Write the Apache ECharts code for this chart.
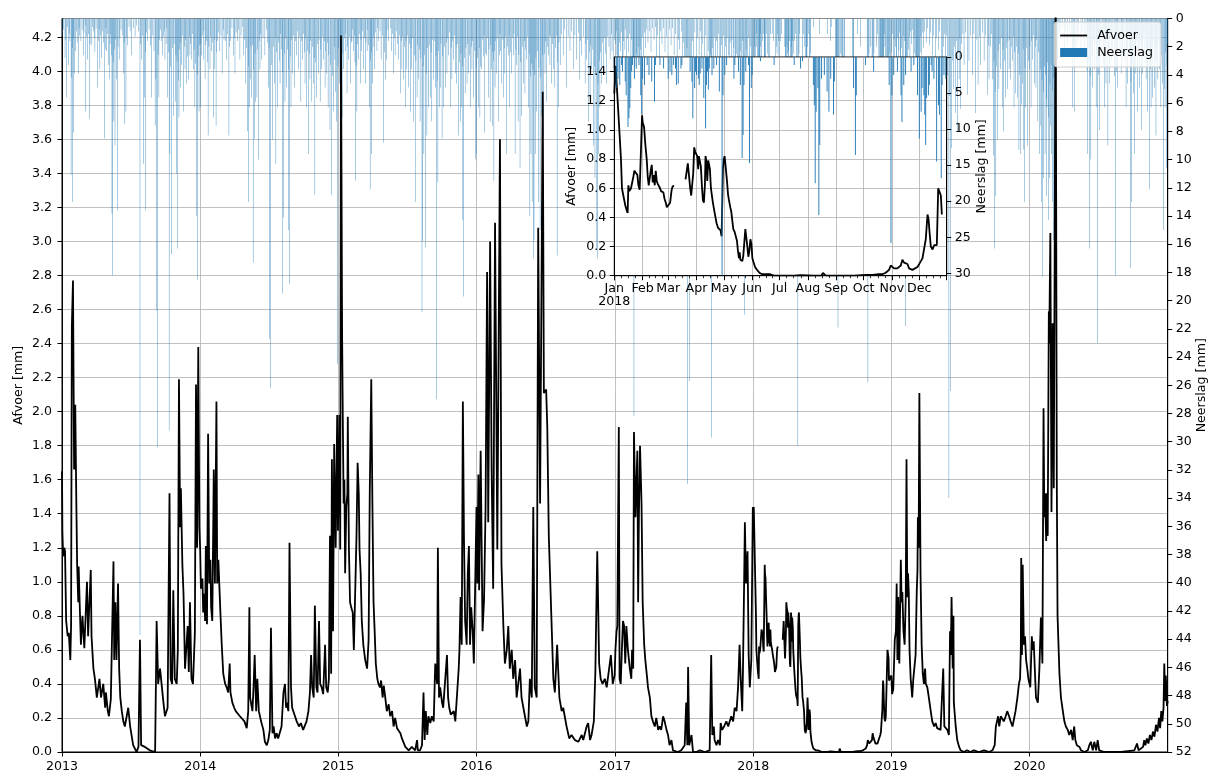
<!DOCTYPE html>
<html>
<head>
<meta charset="utf-8">
<script src="https://cdn.jsdelivr.net/npm/echarts@6/dist/echarts.min.js"></script>
<style>
  html, body { margin: 0; padding: 0; background: #fff; }
  #chart { width: 1212px; height: 774px; }
</style>
</head>
<body>
<div id="chart"></div>
<script>
// Daily discharge (Afvoer, mm) per year as [day of year, value]; null marks missing data.
const afvoer2013 = [[0,1.65],[1,1.3],[3,1.15],[6,1.2],[8,1.18],[11,0.77],[15,0.68],[18,0.7],[22,0.54],[24,0.74],[26,2.5],[29,2.77],[32,1.66],[35,2.04],[38,1.44],[40,1.1],[43,0.88],[44,1.09],[47,0.85],[50,0.63],[54,0.8],[59,0.61],[63,0.6],[66,1.0],[69,0.68],[71,0.8],[76,1.07],[78,0.68],[83,0.49],[87,0.43],[92,0.32],[99,0.43],[103,0.32],[109,0.4],[114,0.26],[116,0.35],[121,0.24],[124,0.21],[129,0.31],[136,1.12],[138,0.54],[141,0.88],[144,0.54],[148,0.99],[151,0.49],[154,0.32],[158,0.24],[162,0.18],[166,0.15],[175,0.26],[180,0.15],[188,0.04],[197,0.0],[202,0.03],[206,0.66],[209,0.04],[219,0.03],[232,0.01],[246,0.0],[250,0.77],[254,0.4],[259,0.49],[268,0.29],[272,0.21],[279,0.26],[284,1.52],[287,0.43],[291,0.4],[294,0.95],[298,0.43],[303,0.4],[306,0.6],[309,2.19],[312,1.32],[314,1.55],[318,1.1],[321,0.93],[325,0.49],[329,0.63],[332,0.74],[335,0.47],[338,0.88],[342,0.43],[346,0.4],[351,0.7],[354,2.16],[357,1.2],[360,2.38],[363,1.32]];
const afvoer2014 = [[0,1.19],[2,0.96],[6,1.02],[8,0.82],[11,0.93],[13,0.77],[15,1.21],[18,0.75],[21,1.87],[24,0.99],[27,1.13],[29,0.85],[32,0.77],[36,1.66],[39,0.99],[43,2.06],[45,0.99],[48,1.13],[51,0.96],[54,0.79],[57,0.63],[61,0.46],[66,0.4],[70,0.38],[74,0.35],[78,0.52],[80,0.35],[85,0.29],[90,0.26],[94,0.24],[99,0.23],[105,0.21],[110,0.2],[117,0.18],[123,0.14],[127,0.24],[130,0.85],[132,0.32],[138,0.24],[141,0.38],[144,0.57],[148,0.24],[151,0.43],[155,0.24],[161,0.18],[167,0.13],[171,0.06],[176,0.04],[180,0.07],[184,0.13],[187,0.73],[191,0.11],[194,0.15],[198,0.08],[202,0.11],[206,0.08],[211,0.08],[215,0.15],[220,0.35],[224,0.4],[227,0.26],[229,0.29],[233,0.24],[236,1.23],[240,0.38],[243,0.26],[249,0.22],[255,0.18],[261,0.15],[266,0.17],[272,0.13],[277,0.14],[281,0.18],[286,0.24],[290,0.35],[293,0.57],[296,0.38],[300,0.32],[303,0.86],[307,0.38],[310,0.35],[314,0.77],[317,0.4],[321,0.38],[325,0.34],[330,0.63],[333,0.38],[337,0.35],[340,0.43],[343,1.27],[346,0.46],[348,1.72],[351,0.71],[354,1.81],[358,1.2],[362,1.98],[364,1.3]];
const afvoer2015 = [[1,1.6],[3,1.98],[5,1.19],[7,4.21],[10,2.44],[12,1.91],[14,1.46],[16,1.6],[18,1.05],[21,1.44],[24,1.52],[25,1.97],[28,1.19],[31,0.88],[34,0.85],[38,0.82],[41,0.6],[45,0.6],[48,1.27],[51,1.7],[54,1.52],[56,1.19],[59,1.05],[62,0.77],[66,0.63],[71,0.54],[76,0.49],[80,0.66],[83,1.52],[87,2.19],[90,1.46],[93,0.88],[96,0.71],[99,0.52],[103,0.43],[106,0.4],[110,0.38],[113,0.42],[117,0.32],[120,0.39],[124,0.32],[128,0.24],[133,0.28],[137,0.21],[142,0.24],[146,0.15],[150,0.2],[155,0.14],[159,0.15],[164,0.11],[168,0.08],[172,0.08],[177,0.03],[181,0.04],[186,0.01],[194,0.03],[203,0.01],[208,0.07],[210,0.01],[216,0.01],[221,0.04],[225,0.35],[228,0.07],[231,0.24],[235,0.1],[238,0.21],[243,0.17],[247,0.21],[252,0.18],[256,0.52],[261,0.4],[263,1.2],[266,0.32],[269,0.38],[274,0.29],[277,0.26],[282,0.26],[287,0.57],[290,0.32],[293,0.26],[297,0.22],[300,0.21],[305,0.24],[309,0.18],[313,0.17],[318,0.49],[320,0.6],[323,0.91],[326,0.63],[329,2.06],[332,1.24],[335,0.77],[339,0.63],[342,1.05],[345,1.21],[348,0.63],[351,0.85],[355,0.71],[358,0.52],[362,0.52]];
const afvoer2016 = [[0,1.44],[2,0.99],[5,1.63],[7,0.95],[11,1.77],[16,0.71],[20,0.9],[24,1.44],[28,2.82],[31,1.35],[36,3.0],[40,1.66],[44,0.96],[49,3.11],[55,1.19],[62,3.6],[66,1.1],[71,0.74],[75,0.52],[80,0.6],[84,0.74],[88,0.49],[93,0.6],[97,0.43],[102,0.54],[106,0.32],[115,0.49],[119,0.32],[128,0.21],[133,0.15],[137,0.18],[141,0.43],[146,0.32],[150,1.44],[154,0.38],[159,0.32],[163,3.08],[168,1.46],[175,3.88],[178,2.11],[184,2.13],[187,1.91],[191,1.27],[199,0.71],[203,0.43],[207,0.35],[213,0.63],[219,0.32],[225,0.24],[229,0.26],[238,0.15],[245,0.08],[251,0.1],[260,0.07],[269,0.06],[278,0.1],[282,0.07],[291,0.15],[295,0.17],[300,0.07],[304,0.1],[310,0.18],[314,0.47],[319,1.18],[324,0.52],[328,0.43],[333,0.4],[339,0.43],[344,0.38],[355,0.57],[360,0.4],[365,0.45]];
const afvoer2017 = [[1,0.6],[4,0.71],[6,0.74],[10,1.91],[12,0.43],[15,0.4],[18,0.6],[21,0.77],[24,0.74],[27,0.52],[30,0.74],[34,0.6],[39,0.49],[43,0.43],[45,0.6],[48,0.49],[50,1.88],[54,1.38],[56,1.38],[59,1.77],[61,0.88],[63,1.38],[66,1.8],[70,1.46],[73,0.88],[77,0.63],[80,0.54],[85,0.43],[87,0.38],[92,0.32],[96,0.21],[100,0.18],[105,0.15],[109,0.2],[114,0.13],[118,0.15],[122,0.13],[127,0.21],[131,0.18],[136,0.13],[140,0.1],[144,0.04],[149,0.07],[153,0.01],[158,0.0],[166,0.0],[175,0.01],[184,0.04],[188,0.29],[191,0.04],[193,0.5],[196,0.04],[202,0.1],[206,0.0],[215,0.0],[224,0.01],[228,0.0],[237,0.0],[250,0.01],[254,0.57],[257,0.1],[261,0.15],[263,0.07],[268,0.04],[272,0.07],[277,0.04],[279,0.17],[283,0.13],[288,0.15],[294,0.18],[299,0.15],[303,0.18],[307,0.21],[312,0.18],[316,0.26],[321,0.24],[325,0.38],[329,0.63],[332,0.43],[336,0.24],[338,0.49],[341,0.99],[343,1.35],[346,0.99],[350,1.18],[353,0.57],[356,0.38],[360,0.54],[364,1.44]];
const afvoer2018 = [[0,1.25],[1.5,1.44],[3.3,1.44],[5.5,1.0],[7.3,0.8],[8.4,0.6],[9.9,0.55],[11,0.54],[12.1,0.48],[13.5,0.45],[14.6,0.43],[15.4,0.62],[16.5,0.58],[17.2,0.58],[18.3,0.6],[19.4,0.6],[20.9,0.68],[22,0.72],[23.8,0.71],[25.3,0.69],[26.4,0.62],[27.8,0.59],[29.3,0.6],[30.4,1.1],[31.1,1.05],[32.6,1.02],[34,0.9],[35.5,0.8],[36.6,0.68],[37.7,0.62],[38.8,0.61],[39.9,0.72],[41,0.76],[42.1,0.64],[43.2,0.69],[44.3,0.62],[45.4,0.72],[46.5,0.65],[47.6,0.63],[48.7,0.64],[50.1,0.6],[51.2,0.58],[52.7,0.58],[53.8,0.57],[54.9,0.53],[56.4,0.5],[57.5,0.47],[59.3,0.47],[61.1,0.5],[62.6,0.58],[63.7,0.61],[65.2,0.62],[71,null],[78,0.66],[79.4,0.72],[80.5,0.77],[81.6,0.7],[83.1,0.6],[84.2,0.55],[85.3,0.54],[86.4,0.7],[87.5,0.88],[88.6,0.85],[89.7,0.86],[90.8,0.82],[91.9,0.73],[92.6,0.82],[93.7,0.82],[94.8,0.75],[95.9,0.62],[97,0.52],[98.1,0.5],[99.2,0.62],[99.9,0.82],[101,0.78],[101.8,0.65],[102.9,0.79],[104,0.78],[104.7,0.73],[105.8,0.6],[106.9,0.55],[108,0.5],[109.1,0.46],[110.5,0.41],[112,0.36],[113.5,0.33],[114.9,0.32],[116.4,0.31],[117.5,0.27],[118.2,0.28],[119,0.74],[120,0.8],[120.8,0.82],[121.9,0.75],[123.4,0.65],[124.5,0.56],[125.5,0.52],[127,0.47],[128.1,0.44],[129.2,0.38],[130.3,0.32],[131.8,0.3],[133.2,0.29],[134.3,0.24],[135.4,0.17],[136.5,0.12],[137.3,0.16],[138,0.11],[139.1,0.1],[140.2,0.1],[141.3,0.14],[142.4,0.23],[143.5,0.32],[144.6,0.26],[145.7,0.2],[146.8,0.13],[147.9,0.17],[149,0.25],[150.1,0.22],[151.2,0.12],[152.6,0.09],[154.1,0.06],[156.3,0.04],[158.9,0.02],[161.8,0.01],[165.4,0.01],[170.9,0.01],[174.6,0.0],[181.9,0.0],[196.6,0.0],[203.9,0.003],[218.5,0.0],[226.9,0.0],[228.4,0.02],[230.2,0.02],[231.7,0.0],[240.5,0.0],[262.4,0.0],[275.3,0.005],[282.6,0.005],[289.9,0.01],[293.6,0.01],[297.2,0.02],[300.9,0.04],[302.7,0.07],[304.5,0.06],[306.4,0.05],[310,0.05],[313.7,0.07],[315.5,0.11],[317.3,0.09],[319.2,0.09],[321,0.08],[322.8,0.05],[324.7,0.04],[326.5,0.04],[328.3,0.05],[332,0.06],[333.8,0.06],[335.7,0.1],[337.5,0.12],[339.3,0.11],[341.1,0.25],[343,0.42],[344.1,0.39],[345.2,0.3],[346.6,0.2],[348.5,0.18],[350.3,0.21],[352.1,0.22],[353.2,0.21],[354.7,0.6],[356.1,0.61],[357.6,0.55],[358.7,0.42]];
const afvoer2019 = [[0,0.45],[2,0.34],[5,0.37],[9,0.66],[12,0.71],[14,0.99],[16,0.54],[18,0.91],[21,0.52],[25,1.13],[27,0.88],[29,0.94],[32,0.71],[35,0.63],[38,0.91],[40,1.72],[42,0.91],[44,1.05],[46,0.94],[48,0.6],[51,0.43],[53,0.38],[55,0.32],[58,0.43],[61,0.43],[64,0.57],[67,0.94],[69,1.07],[70,1.38],[72,1.2],[74,2.11],[76,1.41],[77,1.05],[80,0.63],[83,0.46],[86,0.4],[89,0.49],[91,0.4],[95,0.38],[99,0.32],[104,0.24],[108,0.18],[113,0.15],[117,0.17],[121,0.14],[126,0.15],[130,0.13],[135,0.13],[137,0.49],[140,0.15],[143,0.14],[148,0.13],[152,0.1],[155,0.71],[157,0.57],[159,0.91],[162,0.49],[164,0.8],[165,0.29],[170,0.15],[174,0.07],[179,0.03],[183,0.01],[192,0.0],[200,0.01],[209,0.0],[218,0.01],[231,0.0],[245,0.01],[258,0.0],[267,0.01],[273,0.04],[276,0.15],[279,0.18],[282,0.21],[285,0.15],[289,0.21],[293,0.21],[297,0.18],[302,0.21],[306,0.24],[311,0.21],[315,0.18],[320,0.15],[324,0.15],[328,0.24],[333,0.32],[337,0.4],[340,0.43],[342,0.6],[343,1.14],[345,0.57],[347,1.1],[350,0.63],[353,0.68],[356,0.54],[359,0.49],[362,0.43]];
const afvoer2020 = [[2,0.38],[6,0.68],[8,0.6],[11,0.65],[15,0.43],[17,0.32],[22,0.29],[26,0.49],[30,0.79],[34,0.52],[37,2.02],[39,1.38],[41,1.52],[44,1.24],[45,1.52],[48,1.27],[51,2.59],[52,2.4],[55,3.05],[58,1.41],[61,2.52],[64,1.55],[66,2.7],[69,4.6],[72,1.6],[74,0.8],[79,0.46],[83,0.32],[88,0.24],[92,0.18],[96,0.15],[101,0.13],[105,0.1],[110,0.13],[114,0.07],[118,0.15],[121,0.07],[125,0.04],[132,0.03],[136,0.01],[145,0.0],[154,0.01],[158,0.04],[162,0.06],[167,0.01],[171,0.06],[176,0.01],[180,0.07],[184,0.01],[198,0.0],[242,0.0],[277,0.01],[280,0.0],[284,0.05],[288,0.01],[300,0.03],[303,0.07],[306,0.04],[310,0.08],[314,0.05],[318,0.1],[322,0.07],[326,0.12],[330,0.09],[334,0.16],[338,0.12],[342,0.2],[345,0.14],[348,0.24],[351,0.18],[354,0.26],[356,0.52],[358,0.3],[360,0.45],[363,0.27],[365,0.3]];

// Daily precipitation (Neerslag, mm) per year as [day of year, value].
const neerslag2013 = [[2,1.2],[4,0.8],[8,2.8],[10,1.5],[12,5.6],[14,0.6],[17,3.3],[19,1.1],[21,1.6],[24,11.1],[25,4.2],[27,13],[28,2.1],[30,8.1],[31,1.4],[33,3.9],[36,2.3],[38,0.9],[40,1.7],[43,3.9],[45,0.7],[47,1.2],[50,1.6],[53,0.8],[56,2.6],[58,1.0],[61,0.5],[63,6.6],[65,1.3],[67,2.9],[70,1.1],[72,7.1],[74,1.8],[77,1.9],[80,0.6],[83,0.9],[85,1.4],[87,2.4],[90,0.7],[94,4.9],[96,1.6],[98,0.8],[100,3.6],[102,1.2],[105,2.8],[107,0.9],[110,1.7],[112,8.5],[114,2.2],[116,0.7],[118,2.3],[120,1.1],[122,3.3],[125,4.3],[127,1.8],[129,1.1],[131,2.6],[132,13.8],[134,18.2],[135,3.1],[137,7.3],[138,2.2],[140,9],[142,1.5],[144,4.3],[146,13.6],[148,2.0],[151,2.9],[153,1.4],[156,0.8],[160,1.2],[162,3.9],[164,1.7],[166,7.5],[169,6.6],[171,1.4],[173,1.9],[177,0.6],[180,0.9],[184,2.6],[188,0.7],[193,1.3],[197,0.5],[202,0.9],[206,43.7],[208,1.8],[210,2.9],[213,1.2],[215,10.3],[218,5.6],[220,2.4],[221,13.6],[224,1.0],[226,1.6],[230,0.8],[234,1.9],[237,5.6],[240,1.2],[243,2.3],[246,7.6],[248,4.3],[250,20.7],[253,30.4],[254,2.6],[256,5.6],[258,1.5],[260,0.8],[262,1.6],[265,2.6],[268,1.3],[270,0.9],[272,2.9],[275,1.8],[277,0.7],[279,5.6],[281,2.4],[283,29.2],[285,9.6],[287,3.4],[290,16.7],[292,2.1],[294,6.9],[296,1.8],[299,5.9],[301,2.6],[303,11],[304,3.0],[306,16.3],[307,4.4],[309,7],[311,2.2],[313,4.9],[314,1.7],[316,3.3],[318,1.2],[321,6.6],[323,2.0],[325,3.6],[327,1.5],[329,4.6],[331,2.7],[334,4.3],[336,1.3],[338,2.6],[340,1.8],[343,2.9],[345,1.1],[347,3.6],[349,2.2],[351,6.3],[353,3.2],[355,14],[357,4.0],[358,18.5],[360,2.7],[362,6.6],[364,1.9]];
const neerslag2014 = [[0,6.3],[2,1.8],[4,2.6],[6,1.2],[8,2.9],[10,0.9],[13,4.3],[15,1.9],[17,1.6],[19,3.1],[21,8.3],[23,2.0],[26,3.6],[28,1.3],[30,2.3],[32,1.7],[35,7],[37,3.6],[39,1.5],[42,7.6],[44,2.4],[46,1.6],[49,1.0],[52,2.3],[55,1.2],[58,3.9],[61,0.8],[63,1.5],[66,1.6],[70,2.9],[73,1.1],[76,8.3],[78,2.0],[81,1.6],[84,0.7],[88,2.6],[90,1.4],[92,3.9],[95,1.0],[99,1.6],[102,0.8],[105,2.9],[108,1.2],[111,0.6],[114,2.6],[117,1.5],[120,4.6],[122,2.1],[125,8],[127,13],[128,3.4],[130,6.3],[132,4.3],[134,2.0],[136,5.6],[138,1.9],[140,17.3],[141,3.6],[143,8.5],[145,2.5],[147,5.9],[150,5.6],[152,2.2],[154,10],[156,1.6],[158,3.6],[160,1.1],[162,2.9],[166,1.4],[171,2.6],[175,0.8],[178,1.7],[180,4.9],[182,2.1],[184,22.7],[186,26.2],[188,3.3],[191,8.6],[193,2.0],[196,4.6],[198,1.3],[200,10.3],[202,2.4],[205,6.3],[207,1.7],[209,3.0],[211,4.6],[213,1.1],[215,2.2],[217,19.5],[218,3.8],[220,14.1],[222,2.5],[224,5.9],[226,1.4],[228,4.9],[230,2.2],[233,15],[234,3.6],[236,18.8],[238,2.7],[240,6.3],[242,1.5],[244,3.9],[246,1.2],[249,4.9],[252,1.6],[255,2.6],[257,0.9],[259,3.6],[262,1.3],[266,5.9],[268,1.6],[270,2.9],[273,1.1],[275,2.4],[277,4.6],[279,1.4],[281,6.3],[283,2.3],[286,9.6],[288,2.5],[290,4.3],[292,1.6],[295,5.9],[297,2.0],[299,4.6],[301,2.8],[303,12.5],[305,3.1],[308,5.6],[310,1.8],[312,3.9],[314,1.5],[317,5.9],[319,2.2],[321,3.6],[323,1.3],[325,2.9],[328,1.6],[330,4.9],[332,2.3],[334,3.9],[336,1.7],[338,6.3],[340,2.6],[343,7.9],[345,3.3],[347,12.5],[349,4.1],[352,6.6],[354,2.0],[356,2.9],[358,5.2],[361,7.3],[363,24.5],[364,3.4]];
const neerslag2015 = [[1,2.1],[3,4.6],[5,11.5],[6,14],[7,9.5],[8,3.2],[10,7],[12,2.5],[14,3.6],[16,1.4],[18,2.3],[20,1.1],[23,5.3],[25,2.0],[27,2.9],[29,1.3],[32,4.6],[34,1.7],[36,1.6],[38,0.8],[40,2.3],[42,1.2],[44,3.1],[46,11.5],[47,3.4],[49,6.6],[51,1.8],[54,2.9],[56,1.1],[58,4.6],[60,1.5],[62,2.3],[64,0.9],[67,3.6],[69,1.4],[71,4.6],[73,1.7],[76,2.3],[78,0.8],[80,1.9],[82,6.3],[84,12.1],[85,3.0],[87,9.6],[88,2.4],[90,4.6],[92,1.3],[94,2.0],[96,3.6],[99,1.0],[102,2.3],[104,0.7],[106,1.6],[110,0.9],[113,2.9],[116,1.2],[120,8.8],[122,2.4],[124,4.3],[126,1.3],[128,2.9],[131,0.8],[133,1.6],[137,0.7],[140,2.3],[143,1.1],[146,3.9],[148,1.4],[150,2.6],[153,0.9],[156,1.8],[159,2.9],[162,1.2],[164,5.3],[166,1.6],[168,3.6],[170,1.3],[172,4.3],[174,2.0],[177,6.3],[179,1.6],[181,3.6],[183,1.2],[186,4.9],[188,1.8],[190,6.6],[192,2.1],[194,3.6],[196,1.4],[199,7.3],[201,2.6],[203,13],[205,3.0],[208,5.6],[210,1.9],[212,4.3],[214,2.2],[216,7.3],[218,2.8],[221,20.8],[223,15.8],[224,3.4],[226,9.6],[228,2.6],[230,16.2],[232,3.9],[234,8.3],[236,2.1],[238,6.3],[240,1.9],[243,5.6],[245,2.4],[247,7.3],[249,1.5],[252,4.3],[254,1.6],[256,4.9],[258,2.7],[260,27],[261,4.4],[263,11.6],[265,2.3],[267,6.3],[269,4.9],[271,1.8],[274,8.5],[276,2.7],[278,6.3],[280,2.0],[283,4.9],[285,1.7],[287,3.9],[289,1.4],[291,2.6],[293,1.0],[296,6.3],[298,2.1],[300,4.3],[302,1.6],[305,2.9],[307,1.2],[309,3.9],[311,2.0],[313,4.6],[315,1.8],[318,8.3],[320,3.1],[322,7.3],[324,2.5],[326,6.3],[328,3.4],[329,14.3],[331,19.7],[333,2.8],[335,5.3],[337,2.1],[340,4.6],[342,1.8],[344,3.9],[346,2.6],[349,6.3],[351,2.0],[353,3.6],[355,1.6],[357,5.6],[359,2.3],[362,10],[364,3.5]];
const neerslag2016 = [[0,9.6],[2,2.8],[5,6.3],[7,2.1],[9,7],[11,3.4],[14,3.6],[16,1.5],[18,2.7],[20,1.2],[22,8.1],[24,2.5],[27,2.6],[29,1.4],[31,5.6],[33,2.2],[36,7.3],[38,1.9],[40,3.6],[42,2.4],[43,7.6],[45,3.0],[46,11.5],[48,2.3],[49,4.9],[51,1.6],[53,3.9],[55,1.4],[58,7.3],[60,2.6],[62,1.1],[64,2.3],[66,4.6],[68,1.5],[71,5.6],[73,2.1],[75,3.9],[77,1.3],[80,9.6],[82,2.0],[84,2.6],[86,1.2],[88,6.3],[90,2.4],[93,3.9],[95,1.4],[97,2.6],[99,1.1],[102,9.6],[104,2.2],[106,3.3],[108,1.3],[110,7.3],[112,2.6],[115,10.6],[117,3.1],[119,6.9],[121,2.0],[124,4.6],[126,1.6],[128,5.3],[130,2.2],[133,2.9],[135,1.3],[137,6.3],[139,2.5],[141,14],[142,4.1],[144,9.6],[146,3.2],[147,13],[149,3.6],[150,17],[152,15.7],[153,4.0],[155,9.6],[157,2.8],[159,6.6],[161,2.3],[163,13],[165,3.5],[168,15],[170,4.2],[172,6.9],[174,2.6],[175,9.2],[177,8.3],[179,2.5],[181,3.9],[183,1.6],[185,5.9],[187,2.0],[190,2.6],[192,1.2],[194,3.3],[196,1.3],[198,4.6],[200,1.8],[203,3.6],[205,1.4],[207,4.9],[209,2.1],[211,1.2],[213,16.8],[214,3.1],[216,6.3],[218,1.7],[221,3.3],[224,1.1],[229,2.6],[233,0.8],[238,4.9],[242,1.3],[247,2.3],[251,0.9],[256,3.6],[260,1.2],[265,2.9],[269,1.0],[273,4.3],[275,1.6],[278,2.6],[282,1.3],[287,4.6],[289,1.8],[291,2.9],[294,1.5],[296,7.3],[298,2.4],[300,5.6],[302,1.9],[304,3.6],[306,2.2],[309,9.0],[311,3.4],[313,11.3],[315,4.0],[318,16.3],[320,17],[321,4.6],[323,9.6],[325,3.0],[326,6.3],[328,2.4],[331,4.6],[333,1.7],[335,3.6],[338,1.4],[341,2.5],[344,4.6],[347,1.3],[350,2.0],[353,2.9],[356,1.1],[358,2.3],[361,3.6],[364,1.5]];
const neerslag2017 = [[1,1.8],[3,0.9],[5,2.6],[7,4.3],[8,9.5],[10,6.1],[12,1.7],[14,2.3],[17,1.0],[19,3.4],[21,6.2],[23,1.6],[26,2.2],[28,0.8],[31,3.0],[33,1.4],[36,2.4],[39,1.1],[42,3.3],[44,1.5],[46,4.9],[48,12.4],[49,6.0],[50,28.2],[52,3.4],[54,7.2],[56,2.5],[57,11.6],[59,4.8],[61,2.0],[63,6.5],[64,13.2],[66,5.1],[68,2.2],[70,3.8],[72,1.3],[75,2.7],[78,1.0],[81,2.1],[84,0.8],[87,1.7],[91,0.9],[95,2.4],[99,0.7],[103,1.5],[107,0.6],[110,2.8],[113,1.2],[117,3.6],[120,0.9],[124,1.8],[128,0.7],[132,2.4],[136,1.3],[140,3.2],[144,0.8],[148,1.9],[152,0.7],[156,2.6],[160,1.1],[164,4.0],[167,1.5],[171,2.2],[175,0.9],[178,5.3],[181,1.7],[184,3.6],[186,7.9],[188,4.4],[190,2.1],[192,33],[194,6.8],[197,25.7],[199,3.1],[202,5.4],[205,1.6],[208,2.9],[211,1.0],[215,3.7],[218,1.4],[222,2.6],[226,0.9],[229,4.5],[232,1.8],[236,3.0],[240,1.2],[243,5.7],[246,2.3],[249,3.9],[251,8.8],[252,2.6],[254,29.7],[256,5.0],[258,2.1],[261,3.4],[263,1.3],[266,4.2],[268,1.6],[271,2.7],[274,1.1],[277,3.8],[279,6.4],[281,1.9],[284,3.1],[286,1.2],[289,4.3],[291,2.0],[294,3.5],[296,1.4],[299,2.6],[302,5.1],[304,1.7],[307,3.3],[309,1.5],[312,4.7],[314,2.1],[317,3.2],[319,6.8],[321,2.5],[324,4.1],[326,8.6],[328,3.0],[330,5.2],[332,2.3],[334,3.7],[336,1.6],[338,6.9],[340,9.3],[342,21],[344,4.6],[346,2.2],[348,5.5],[350,3.1],[352,1.4],[355,4.0],[357,2.0],[360,6.2],[362,3.3],[364,7.5]];
const neerslag2018 = [[2,4.3],[3,2.0],[4,3.0],[6,3.9],[8,1.1],[9,2.0],[12,3.4],[13,5.3],[15,9.7],[16,8.5],[17,7.1],[18,4.3],[19,2.0],[20,1.1],[22,3.0],[24,1.6],[27,1.1],[29,5.3],[30,8.0],[31,3.0],[33,3.9],[36,1.1],[38,2.5],[41,3.4],[44,6.2],[45,1.1],[50,1.1],[54,1.6],[59,3.0],[61,2.0],[63,2.5],[65,1.1],[67,1.6],[68,3.9],[70,3.7],[73,1.6],[74,1.1],[83,2.0],[85,3.4],[86,8.5],[88,4.3],[89,2.0],[90,2.5],[92,3.0],[93,3.9],[94,2.3],[96,1.6],[98,5.7],[100,9.9],[101,3.9],[102,2.0],[103,4.5],[104,1.6],[107,2.5],[109,1.6],[112,1.1],[115,4.8],[118,30.3],[119,5.3],[121,2.5],[123,1.1],[131,3.0],[132,1.1],[136,2.0],[138,3.9],[140,14.0],[141,10.8],[142,3.9],[144,2.0],[147,1.1],[148,14.7],[150,4.3],[151,2.5],[160,0.6],[175,1.1],[197,1.1],[204,1.6],[206,0.6],[218,3.9],[219,6.7],[220,17.5],[221,7.6],[223,4.3],[224,21.9],[225,12.2],[227,3.0],[230,2.5],[233,4.8],[235,7.6],[237,3.0],[240,8.0],[241,3.4],[262,4.3],[264,13.6],[265,5.3],[275,1.1],[284,2.0],[301,3.9],[303,25.8],[304,5.3],[306,2.5],[310,2.0],[314,5.3],[315,9.0],[317,3.9],[319,2.5],[325,2.0],[328,1.1],[332,5.3],[334,11.3],[336,7.6],[337,4.3],[339,5.3],[340,8.0],[341,12.2],[342,5.7],[344,5.3],[345,3.9],[347,1.1],[348,2.0],[350,3.0],[353,14.5],[355,6.7],[356,8.0],[358,16.8],[359,3.9],[361,2.5],[363,3.0]];
const neerslag2019 = [[1,2.4],[3,1.1],[5,3.6],[7,1.5],[9,4.8],[11,2.0],[13,6.2],[14,3.1],[16,1.4],[18,5.0],[20,2.3],[22,1.0],[24,7.4],[25,3.6],[27,2.1],[29,4.4],[31,1.2],[33,2.8],[35,1.6],[37,9.8],[38,21.8],[39,6.3],[41,3.0],[43,5.6],[45,2.2],[47,1.3],[49,2.9],[51,0.9],[53,1.8],[56,0.8],[58,3.1],[60,1.4],[62,2.5],[64,4.7],[66,8.2],[67,3.0],[69,6.4],[70,11.8],[72,5.5],[73,12.6],[74,7.3],[76,2.4],[78,1.3],[80,2.6],[82,1.0],[85,2.1],[88,0.9],[92,1.7],[96,0.7],[100,1.9],[104,1.0],[108,2.6],[112,1.2],[116,3.0],[120,1.4],[124,2.2],[128,0.9],[132,3.4],[135,6.1],[137,2.0],[140,1.1],[143,2.7],[146,1.2],[149,4.0],[152,34],[154,5.5],[157,26.4],[159,9.2],[162,3.0],[165,5.0],[167,2.0],[170,6.7],[172,1.6],[174,8],[177,2.4],[179,4.3],[181,1.4],[183,6.4],[186,1.8],[189,1.1],[192,3.3],[196,1.0],[201,5.4],[205,3.0],[209,1.2],[214,4.0],[218,1.1],[223,6.7],[226,1.5],[229,4.7],[233,1.3],[236,3.3],[240,1.0],[245,3.0],[249,1.2],[254,5.4],[256,1.9],[258,4.3],[262,2.0],[264,1.1],[267,4.3],[269,9.7],[271,3.0],[273,16.3],[274,5.2],[276,12.6],[278,3.4],[280,8.6],[282,2.3],[284,5.0],[286,1.8],[289,3.6],[291,1.4],[293,6.3],[295,2.2],[297,8.0],[299,3.0],[302,5.6],[304,2.1],[306,5.0],[308,1.6],[311,3.6],[313,1.5],[315,4.3],[317,2.0],[320,3.0],[322,1.3],[324,6.3],[326,2.4],[328,5.3],[330,2.0],[333,5.6],[335,2.5],[337,9.3],[339,4.0],[342,9.6],[343,6.1],[346,4.6],[348,2.2],[350,9.3],[351,13],[353,3.5],[355,6.3],[357,2.1],[360,9],[362,3.0],[364,3.6]];
const neerslag2020 = [[1,2.0],[4,6.3],[6,1.6],[8,2.9],[10,1.2],[13,4.6],[15,2.0],[17,4.9],[19,1.5],[22,7.3],[24,2.4],[26,9.6],[28,3.6],[30,7.6],[32,13],[33,4.4],[35,18.3],[36,5.2],[37,11.3],[39,3.4],[41,9.6],[42,4.0],[44,12.6],[45,5.7],[46,6.3],[48,3.1],[50,14.3],[51,7.0],[52,11.3],[54,4.6],[55,7.6],[57,3.3],[58,9.6],[60,5.1],[61,13],[63,4.2],[64,15.7],[66,15.3],[67,12.3],[68,6.0],[70,4.6],[72,1.8],[74,2.9],[77,1.1],[80,0.8],[83,1.6],[87,0.7],[92,2.3],[96,0.9],[101,1.9],[105,0.8],[110,1.3],[114,6.3],[116,2.2],[118,6.6],[120,1.8],[123,2.9],[126,1.0],[130,1.6],[136,2.3],[140,0.9],[145,2.9],[149,1.3],[152,3.7],[154,9.6],[156,3.0],[158,16.3],[160,4.1],[162,10],[164,2.7],[167,4.9],[169,1.5],[171,3.6],[173,1.8],[176,6.3],[178,2.5],[180,23],[182,4.0],[184,7.9],[186,1.6],[189,2.9],[192,1.1],[195,3.3],[198,6.3],[200,1.7],[202,4.6],[204,1.2],[207,9.0],[209,2.4],[211,4.6],[214,1.3],[217,3.0],[220,2.6],[223,1.0],[225,4.1],[227,18.2],[229,3.7],[231,1.5],[233,4.9],[236,1.3],[239,2.6],[242,3.9],[244,1.2],[246,2.9],[249,1.0],[252,3.1],[255,6.3],[257,2.0],[259,4.6],[262,1.4],[264,2.6],[266,17.7],[268,4.5],[270,13],[272,3.2],[274,5.3],[277,9.6],[279,2.4],[281,3.9],[283,1.6],[286,6.6],[288,2.2],[290,4.9],[292,1.8],[295,7.9],[297,2.5],[299,3.9],[301,1.4],[304,2.8],[306,1.1],[308,4.3],[310,2.0],[312,6.6],[314,2.4],[317,12.1],[319,3.6],[321,6.3],[323,2.0],[325,5.6],[327,1.7],[330,4.9],[332,2.2],[334,8.3],[336,3.0],[339,4.3],[341,1.6],[343,3.6],[345,1.9],[347,6.3],[349,2.6],[352,4.6],[354,15],[356,5.0],[358,6.3],[360,2.4],[361,10.6],[363,3.3],[365,1.8]];

const jaren = [2013, 2014, 2015, 2016, 2017, 2018, 2019, 2020];
const afvoerPerJaar = [afvoer2013, afvoer2014, afvoer2015, afvoer2016, afvoer2017, afvoer2018, afvoer2019, afvoer2020];
const neerslagPerJaar = [neerslag2013, neerslag2014, neerslag2015, neerslag2016, neerslag2017, neerslag2018, neerslag2019, neerslag2020];
const maanden = ['Jan', 'Feb', 'Mar', 'Apr', 'May', 'Jun', 'Jul', 'Aug', 'Sep', 'Oct', 'Nov', 'Dec'];
const inzetJaar = 2018;

const DAG = 86400000;
// Turn [day of year, value] rows into [timestamp, value] points; null becomes a gap.
function naarTijd(jaar, rijen) {
  const t0 = new Date(jaar, 0, 1).getTime();
  return rijen.map(([d, v]) => [t0 + d * DAG, v === null ? '-' : v]);
}
const afvoerData = jaren.flatMap((j, i) => naarTijd(j, afvoerPerJaar[i]));
const neerslagData = jaren.flatMap((j, i) => naarTijd(j, neerslagPerJaar[i]));
const afvoerInzet = naarTijd(inzetJaar, afvoer2018);
const neerslagInzet = naarTijd(inzetJaar, neerslag2018);

// One-day-wide precipitation bar hanging from the top (0 mm) of the inverted axis.
function dagStaaf(kleur) {
  return function (params, api) {
    const t = api.value(0), v = api.value(1);
    const boven = api.coord([t, 0]);
    const onder = api.coord([t, v]);
    const breedte = api.size([DAG, 0])[0];
    return {
      type: 'rect',
      shape: { x: boven[0] - breedte / 2, y: Math.min(boven[1], onder[1]), width: breedte, height: Math.abs(onder[1] - boven[1]) },
      style: { fill: kleur }
    };
  };
}

const FONT = 'DejaVu Sans';
const FS = 12.6;
const GRIJS = '#b0b0b0';
const BLAUW = '#1f77b4';
const zwartAs = { show: true, lineStyle: { color: '#000', width: 1 } };
const tick = { show: true, length: 4.5, lineStyle: { color: '#000', width: 1 } };
const labelStijl = { color: '#000', fontFamily: FONT, fontSize: FS };
const naamStijl = { fontFamily: FONT, fontSize: FS, color: '#000' };
const eindJaar = jaren[jaren.length - 1];

const chart = echarts.init(document.getElementById('chart'), null, { renderer: 'canvas' });
chart.setOption({
  animation: false,
  backgroundColor: '#fff',
  textStyle: { fontFamily: FONT, fontSize: FS, color: '#000' },
  grid: [
    { left: 62, top: 18.5, right: 44.3, bottom: 22, outerBoundsMode: 'none', containLabel: false,
      show: true, borderColor: '#000', borderWidth: 1, backgroundColor: 'transparent' },
    { left: 614.3, top: 57, width: 332.4, height: 218.7, outerBoundsMode: 'none', containLabel: false,
      show: true, borderColor: '#000', borderWidth: 1, backgroundColor: '#fff', zlevel: 1 }
  ],
  legend: {
    zlevel: 2,
    orient: 'vertical',
    right: 51, top: 22,
    padding: [7, 8, 8, 6],
    itemWidth: 27, itemHeight: 9, itemGap: 4,
    symbolKeepAspect: true,
    backgroundColor: 'rgba(255,255,255,0.8)',
    borderColor: '#cccccc', borderWidth: 1, borderRadius: 3,
    textStyle: { fontFamily: FONT, fontSize: FS, color: '#000', padding: [0, 0, 0, 5] },
    data: [
      { name: 'Afvoer', icon: 'path://M0,0H27V1.8H0Z', itemStyle: { color: '#000' } },
      { name: 'Neerslag', icon: 'rect', itemStyle: { color: BLAUW } }
    ]
  },
  xAxis: [
    {
      type: 'time', gridIndex: 0,
      min: new Date(2013, 0, 1).getTime(), max: new Date(eindJaar, 11, 31).getTime(),
      minInterval: 365 * DAG, maxInterval: 366 * DAG,
      axisLine: zwartAs, axisTick: tick,
      axisLabel: Object.assign({
        margin: 8, hideOverlap: false,
        formatter: (v) => { const d = new Date(v + DAG / 2); return d.getFullYear() > eindJaar ? '' : String(d.getFullYear()); }
      }, labelStijl),
      splitLine: { show: true, lineStyle: { color: GRIJS, width: 0.8 } }
    },
    {
      type: 'time', gridIndex: 1, zlevel: 1,
      min: new Date(inzetJaar, 0, 1).getTime(), max: new Date(inzetJaar, 11, 31).getTime(),
      minInterval: 28 * DAG, maxInterval: 31 * DAG,
      axisLine: zwartAs, axisTick: tick,
      minorTick: { show: true, splitNumber: 4, length: 2.5, lineStyle: { color: '#000', width: 0.8 } },
      axisLabel: Object.assign({
        margin: 7, lineHeight: 13, showMaxLabel: false, hideOverlap: false,
        formatter: (v) => { const d = new Date(v); const m = d.getMonth(); return m === 0 ? maanden[m] + '\n' + d.getFullYear() : maanden[m]; }
      }, labelStijl),
      splitLine: { show: true, lineStyle: { color: GRIJS, width: 0.8 } }
    }
  ],
  yAxis: [
    {
      type: 'value', gridIndex: 0, min: 0, max: 4.31, interval: 0.2,
      name: 'Afvoer [mm]', nameLocation: 'middle', nameGap: 37, nameRotate: 90, nameMoveOverlap: false, nameTextStyle: naamStijl,
      axisLine: zwartAs, axisTick: tick,
      axisLabel: Object.assign({ margin: 10, showMaxLabel: false, formatter: (v) => v.toFixed(1) }, labelStijl),
      splitLine: { show: true, lineStyle: { color: GRIJS, width: 0.8 } }
    },
    {
      type: 'value', gridIndex: 0, position: 'right', inverse: true, min: 0, max: 52, interval: 2,
      name: 'Neerslag [mm]', nameLocation: 'middle', nameGap: 28, nameRotate: 90, nameMoveOverlap: false, nameTextStyle: naamStijl,
      axisLine: zwartAs, axisTick: tick,
      axisLabel: Object.assign({ margin: 8, formatter: (v) => String(Math.round(v)) }, labelStijl),
      splitLine: { show: false }
    },
    {
      type: 'value', gridIndex: 1, zlevel: 1, min: 0, max: 1.5, interval: 0.2,
      name: 'Afvoer [mm]', nameLocation: 'middle', nameGap: 36, nameRotate: 90, nameMoveOverlap: false, nameTextStyle: naamStijl,
      axisLine: zwartAs, axisTick: tick,
      axisLabel: Object.assign({ margin: 8, showMaxLabel: false, formatter: (v) => v.toFixed(1) }, labelStijl),
      splitLine: { show: true, lineStyle: { color: GRIJS, width: 0.8 } }
    },
    {
      type: 'value', gridIndex: 1, zlevel: 1, position: 'right', inverse: true, min: 0, max: 30.33, interval: 5,
      name: 'Neerslag [mm]', nameLocation: 'middle', nameGap: 29, nameRotate: 90, nameMoveOverlap: false, nameTextStyle: naamStijl,
      axisLine: zwartAs, axisTick: tick,
      axisLabel: Object.assign({ margin: 8, showMaxLabel: false, formatter: (v) => String(Math.round(v)) }, labelStijl),
      splitLine: { show: false }
    }
  ],
  series: [
    {
      name: 'Neerslag', type: 'custom', xAxisIndex: 0, yAxisIndex: 1, z: 2,
      data: neerslagData, encode: { x: 0, y: 1 }, clip: true,
      itemStyle: { color: BLAUW },
      renderItem: dagStaaf(BLAUW)
    },
    {
      name: 'Afvoer', type: 'line', xAxisIndex: 0, yAxisIndex: 0,
      data: afvoerData, symbol: 'none', showSymbol: false, connectNulls: false, clip: true, z: 3,
      lineStyle: { color: '#000', width: 1.8 }, itemStyle: { color: '#000' }
    },
    {
      name: 'Afvoer inzet', type: 'line', xAxisIndex: 1, yAxisIndex: 2, zlevel: 1, z: 3,
      data: afvoerInzet, symbol: 'none', showSymbol: false, connectNulls: false, clip: true,
      lineStyle: { color: '#000', width: 1.8 }
    },
    {
      name: 'Neerslag inzet', type: 'custom', xAxisIndex: 1, yAxisIndex: 3, zlevel: 1, z: 4,
      data: neerslagInzet, encode: { x: 0, y: 1 }, clip: true,
      itemStyle: { color: BLAUW },
      renderItem: dagStaaf(BLAUW)
    }
  ]
});
</script>
</body>
</html>
